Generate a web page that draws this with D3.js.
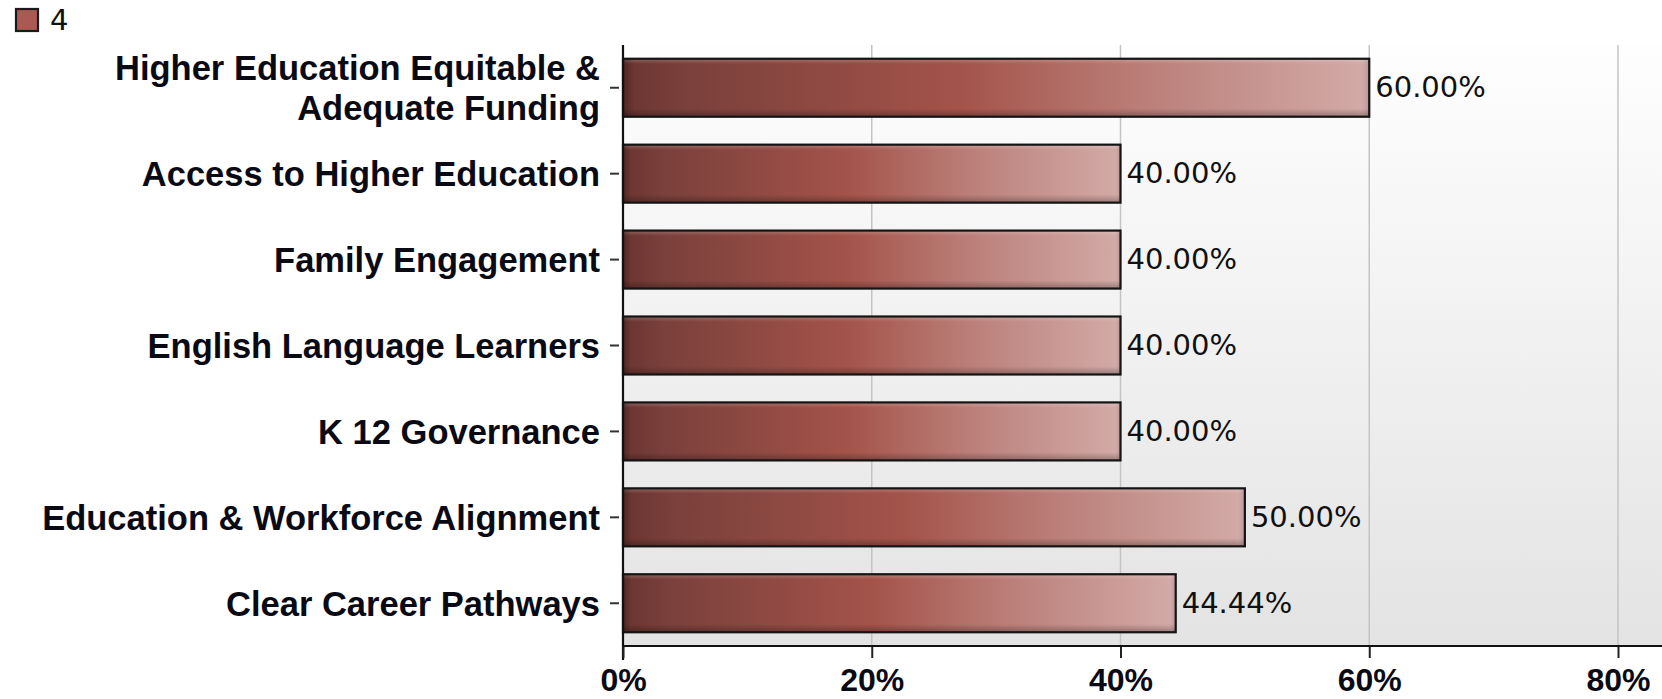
<!DOCTYPE html>
<html>
<head>
<meta charset="utf-8">
<script src="https://cdn.jsdelivr.net/npm/d3@7"></script>
<style>
  html, body { margin: 0; padding: 0; background: #fff; }
  svg { display: block; }
</style>
</head>
<body>
<svg id="chart" width="1662" height="699"></svg>
<script>
// ---- data ----
const categories = [
  "Higher Education Equitable & Adequate Funding",
  "Access to Higher Education",
  "Family Engagement",
  "English Language Learners",
  "K 12 Governance",
  "Education & Workforce Alignment",
  "Clear Career Pathways"
];
const values = [0.60, 0.40, 0.40, 0.40, 0.40, 0.50, 0.4444];
const xTicks = [0, 0.2, 0.4, 0.6, 0.8];
const seriesName = "4";

// ---- layout ----
const W = 1662, H = 699;
const plot = { left: 623, top: 45, bottom: 646, right: 1662 };

const svg = d3.select("#chart");
const defs = svg.append("defs");

// background gradient of plot area
const bg = defs.append("linearGradient").attr("id", "bgGrad")
  .attr("x1", 0).attr("y1", 0).attr("x2", 0).attr("y2", 1);
bg.append("stop").attr("offset", "0%").attr("stop-color", "#fefefe");
bg.append("stop").attr("offset", "100%").attr("stop-color", "#e3e3e3");

// bar fill gradient (horizontal)
const bar = defs.append("linearGradient").attr("id", "barGrad")
  .attr("x1", 0).attr("y1", 0).attr("x2", 1).attr("y2", 0);
[["0%", "#6a3430"], ["8%", "#7a403b"], ["45%", "#a3534a"], ["70%", "#bb7f79"], ["100%", "#d3aba8"]]
  .forEach(([o, c]) => bar.append("stop").attr("offset", o).attr("stop-color", c));

// bevel overlay gradient (vertical)
const bev = defs.append("linearGradient").attr("id", "bevGrad")
  .attr("x1", 0).attr("y1", 0).attr("x2", 0).attr("y2", 1);
[["0%", "#ffffff", 0.22], ["9%", "#ffffff", 0.0], ["86%", "#000000", 0.0], ["100%", "#000000", 0.28]]
  .forEach(([o, c, a]) => bev.append("stop").attr("offset", o).attr("stop-color", c).attr("stop-opacity", a));
const bevL = defs.append("linearGradient").attr("id", "bevLGrad")
  .attr("x1", 0).attr("y1", 0).attr("x2", 1).attr("y2", 0);
[["0%", "#000000", 0.25], ["1.5%", "#000000", 0.0], ["98.5%", "#ffffff", 0.0], ["100%", "#000000", 0.15]]
  .forEach(([o, c, a]) => bevL.append("stop").attr("offset", o).attr("stop-color", c).attr("stop-opacity", a));

// ---- scales ----
const x = d3.scaleLinear().domain([0, 0.8]).range([plot.left, 1618]);
const y = d3.scaleBand().domain(categories).range([plot.top, plot.bottom])
  .paddingInner(0.325).paddingOuter(0.16);

// plot background
svg.append("rect")
  .attr("x", plot.left).attr("y", plot.top)
  .attr("width", plot.right - plot.left).attr("height", plot.bottom - plot.top)
  .attr("fill", "url(#bgGrad)");

// gridlines
svg.append("g").selectAll("line").data(xTicks.filter(d => d > 0)).join("line")
  .attr("x1", d => x(d)).attr("x2", d => x(d))
  .attr("y1", plot.top).attr("y2", plot.bottom)
  .attr("stroke", "#c4c4c4").attr("stroke-width", 1.5);

// bars
const gBars = svg.append("g");
categories.forEach((c, i) => {
  const bx = x(0), by = y(c), bw = x(values[i]) - x(0), bh = y.bandwidth();
  gBars.append("rect").attr("x", bx).attr("y", by).attr("width", bw).attr("height", bh)
    .attr("fill", "url(#barGrad)");
  gBars.append("rect").attr("x", bx).attr("y", by).attr("width", bw).attr("height", bh)
    .attr("fill", "url(#bevGrad)");
  gBars.append("rect").attr("x", bx).attr("y", by).attr("width", bw).attr("height", bh)
    .attr("fill", "url(#bevLGrad)");
  gBars.append("rect").attr("x", bx).attr("y", by).attr("width", bw).attr("height", bh)
    .attr("fill", "none").attr("stroke", "#141414").attr("stroke-width", 2.2);
  // value label
  gBars.append("text")
    .attr("x", x(values[i]) + 6).attr("y", by + bh / 2 - 1)
    .attr("dy", "0.36em")
    .attr("font-family", "DejaVu Sans, Verdana, sans-serif")
    .attr("font-size", 29).attr("fill", "#111")
    .text(d3.format(".2%")(values[i]));
});

// y axis (category labels)
const yAxis = d3.axisLeft(y).tickSize(0).tickPadding(0);
const gy = svg.append("g").attr("transform", `translate(${plot.left},0)`).call(yAxis);
gy.select(".domain").remove();
gy.selectAll(".tick text").remove();
gy.selectAll(".tick").append("line")
  .attr("x1", -13).attr("x2", -4).attr("stroke", "#333").attr("stroke-width", 2);
gy.selectAll(".tick").append("text")
  .attr("x", -23)
  .attr("text-anchor", "end")
  .attr("font-family", "Liberation Sans, Arial, sans-serif")
  .attr("font-weight", "bold")
  .attr("font-size", 34.5)
  .attr("fill", "#0a0a14")
  .each(function (d) {
    const t = d3.select(this);
    // greedy wrap to the label area width
    const maxW = 585;
    const words = d.split(" ");
    let lines = [], cur = [];
    const probe = t.append("tspan");
    words.forEach(w => {
      const test = cur.concat([w]).join(" ");
      probe.text(test);
      if (probe.node().getComputedTextLength() > maxW && cur.length) {
        lines.push(cur.join(" ")); cur = [w];
      } else cur.push(w);
    });
    lines.push(cur.join(" "));
    probe.remove();
    const lh = 39.5;
    lines.forEach((ln, k) => {
      t.append("tspan").attr("x", -23)
        .attr("y", (k - (lines.length - 1) / 2) * lh)
        .attr("dy", "0.36em")
        .text(ln);
    });
  });

// left axis line
svg.append("line").attr("x1", plot.left).attr("x2", plot.left)
  .attr("y1", plot.top).attr("y2", plot.bottom + 14)
  .attr("stroke", "#111").attr("stroke-width", 2.2);

// x axis
const xAxis = d3.axisBottom(x).tickValues(xTicks).tickFormat(d3.format(".0%"))
  .tickSize(12).tickPadding(0);
const gx = svg.append("g").attr("transform", `translate(0,${plot.bottom})`).call(xAxis);
gx.select(".domain").remove();
gx.selectAll(".tick line").attr("stroke", "#222").attr("stroke-width", 2);
gx.selectAll(".tick text")
  .attr("y", 45).attr("dy", 0)
  .attr("font-family", "Liberation Sans, Arial, sans-serif")
  .attr("font-weight", "bold").attr("font-size", 32).attr("fill", "#0a0a14");
svg.append("line").attr("x1", plot.left).attr("x2", plot.right)
  .attr("y1", plot.bottom).attr("y2", plot.bottom)
  .attr("stroke", "#111").attr("stroke-width", 2.2);

// legend
const lg = svg.append("g");
lg.append("rect").attr("x", 16).attr("y", 9).attr("width", 22).attr("height", 22)
  .attr("fill", "#ab5a53").attr("stroke", "#1a1a1a").attr("stroke-width", 2.2);
lg.append("text").attr("x", 50).attr("y", 20).attr("dy", "0.36em")
  .attr("font-family", "DejaVu Sans, Verdana, sans-serif")
  .attr("font-size", 29).attr("fill", "#111").text(seriesName);
</script>
</body>
</html>
